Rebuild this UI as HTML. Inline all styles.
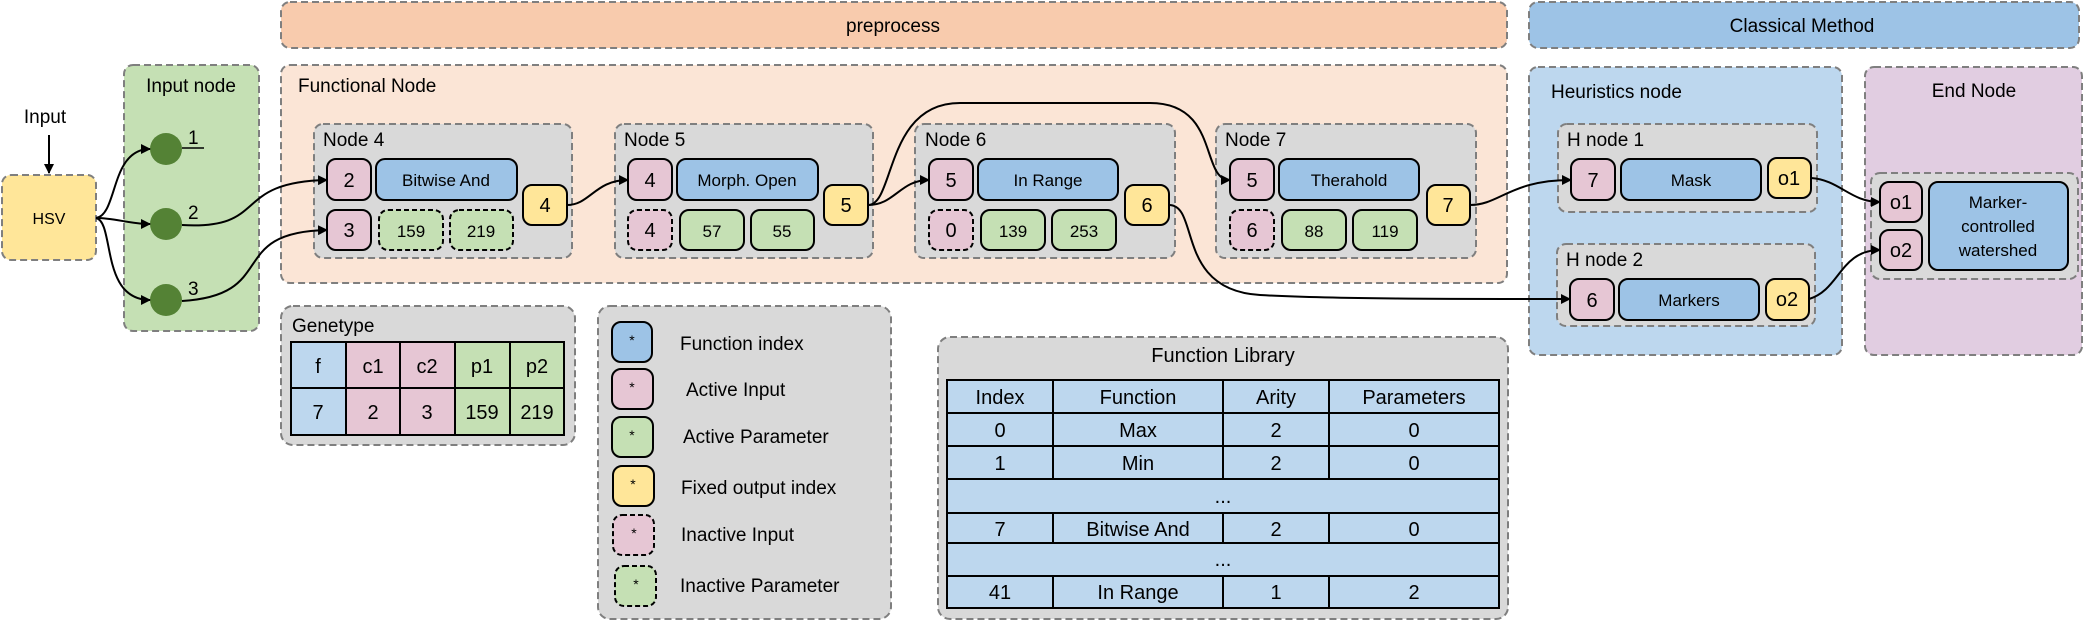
<!DOCTYPE html>
<html><head><meta charset="utf-8"><style>
html,body{margin:0;padding:0;background:#fff;}
svg text{font-family:"Liberation Sans",sans-serif;fill:#000;}
</style></head><body>
<svg width="2085" height="621" viewBox="0 0 2085 621" xmlns="http://www.w3.org/2000/svg">
<defs>
<marker id="ar" viewBox="0 0 10 10" refX="9" refY="5" markerWidth="10" markerHeight="10" markerUnits="userSpaceOnUse" orient="auto"><path d="M0,0 L10,5 L0,10 z" fill="#000"/></marker>
</defs>
<g stroke="#7f7f7f" stroke-width="2" stroke-dasharray="7,4">
<rect x="281" y="2" width="1226" height="46" rx="9" fill="#f8cbad"/>
<rect x="1529" y="2" width="550" height="46" rx="9" fill="#9dc3e6"/>
<rect x="124" y="65" width="135" height="266" rx="9" fill="#c5e0b4"/>
<rect x="281" y="65" width="1226" height="218" rx="9" fill="#fbe5d6"/>
<rect x="1529" y="67" width="313" height="288" rx="9" fill="#bdd7ee"/>
<rect x="1865" y="67" width="217" height="288" rx="9" fill="#e1cde1"/>
<rect x="2" y="175" width="94" height="85" rx="9" fill="#ffe699"/>
<rect x="314" y="124" width="258" height="134" rx="9" fill="#d9d9d9"/>
<rect x="615" y="124" width="258" height="134" rx="9" fill="#d9d9d9"/>
<rect x="915" y="124" width="260" height="134" rx="9" fill="#d9d9d9"/>
<rect x="1216" y="124" width="260" height="134" rx="9" fill="#d9d9d9"/>
<rect x="1558" y="124" width="259" height="88" rx="9" fill="#d9d9d9"/>
<rect x="1557" y="244" width="258" height="82" rx="9" fill="#d9d9d9"/>
<rect x="1871" y="173" width="207" height="106" rx="9" fill="#d9d9d9"/>
<rect x="281" y="306" width="294" height="139" rx="12" fill="#d9d9d9"/>
<rect x="598" y="306" width="293" height="313" rx="12" fill="#d9d9d9"/>
<rect x="938" y="337" width="570" height="282" rx="12" fill="#d9d9d9"/>
</g>
<g font-size="19">
<text x="893" y="32" text-anchor="middle">preprocess</text>
<text x="1802" y="32" text-anchor="middle">Classical Method</text>
<text x="191" y="92" text-anchor="middle">Input node</text>
<text x="298" y="92">Functional Node</text>
<text x="1551" y="98">Heuristics node</text>
<text x="1974" y="97" text-anchor="middle">End Node</text>
<text x="45" y="123" text-anchor="middle">Input</text>
<text x="323" y="146">Node 4</text>
<text x="624" y="146">Node 5</text>
<text x="925" y="146">Node 6</text>
<text x="1225" y="146">Node 7</text>
<text x="1567" y="146">H node 1</text>
<text x="1566" y="266">H node 2</text>
<text x="292" y="332">Genetype</text>
<text x="1223" y="362" text-anchor="middle" font-size="20">Function Library</text>
</g>
<text x="49" y="224" font-size="16" text-anchor="middle">HSV</text>
<g fill="#548235"><circle cx="166" cy="149" r="16"/><circle cx="166" cy="224" r="16"/><circle cx="166" cy="300" r="16"/></g>
<g font-size="19"><text x="188" y="144">1</text><text x="188" y="219">2</text><text x="188" y="295">3</text></g>
<line x1="182" y1="148" x2="204" y2="148" stroke="#000" stroke-width="1.5"/>
<g stroke="#000" stroke-width="2">
<rect x="327" y="159" width="44" height="41" rx="9" fill="#e6c6d4"/>
<rect x="376" y="159" width="141" height="41" rx="9" fill="#9dc3e6"/>
<rect x="523" y="185" width="44" height="40" rx="9" fill="#ffe699"/>
<rect x="327" y="210" width="44" height="40" rx="9" fill="#e6c6d4"/>
<rect x="379" y="210" width="64" height="40" rx="9" fill="#c5e0b4" stroke-dasharray="5,3"/>
<rect x="450" y="210" width="63" height="40" rx="9" fill="#c5e0b4" stroke-dasharray="5,3"/>
<rect x="628" y="159" width="44" height="41" rx="9" fill="#e6c6d4"/>
<rect x="677" y="159" width="141" height="41" rx="9" fill="#9dc3e6"/>
<rect x="824" y="185" width="44" height="40" rx="9" fill="#ffe699"/>
<rect x="628" y="210" width="44" height="40" rx="9" fill="#e6c6d4" stroke-dasharray="5,3"/>
<rect x="680" y="210" width="64" height="40" rx="9" fill="#c5e0b4"/>
<rect x="751" y="210" width="63" height="40" rx="9" fill="#c5e0b4"/>
<rect x="929" y="159" width="44" height="41" rx="9" fill="#e6c6d4"/>
<rect x="978" y="159" width="140" height="41" rx="9" fill="#9dc3e6"/>
<rect x="1125" y="185" width="44" height="40" rx="9" fill="#ffe699"/>
<rect x="929" y="210" width="44" height="40" rx="9" fill="#e6c6d4" stroke-dasharray="5,3"/>
<rect x="981" y="210" width="64" height="40" rx="9" fill="#c5e0b4"/>
<rect x="1052" y="210" width="64" height="40" rx="9" fill="#c5e0b4"/>
<rect x="1230" y="159" width="44" height="41" rx="9" fill="#e6c6d4"/>
<rect x="1279" y="159" width="140" height="41" rx="9" fill="#9dc3e6"/>
<rect x="1427" y="185" width="43" height="40" rx="9" fill="#ffe699"/>
<rect x="1230" y="210" width="44" height="40" rx="9" fill="#e6c6d4" stroke-dasharray="5,3"/>
<rect x="1282" y="210" width="64" height="40" rx="9" fill="#c5e0b4"/>
<rect x="1353" y="210" width="64" height="40" rx="9" fill="#c5e0b4"/>
<rect x="1571" y="159" width="44" height="41" rx="9" fill="#e6c6d4"/>
<rect x="1621" y="159" width="140" height="41" rx="9" fill="#9dc3e6"/>
<rect x="1768" y="158" width="43" height="40" rx="9" fill="#ffe699"/>
<rect x="1570" y="279" width="44" height="41" rx="9" fill="#e6c6d4"/>
<rect x="1619" y="279" width="140" height="41" rx="9" fill="#9dc3e6"/>
<rect x="1766" y="279" width="43" height="41" rx="9" fill="#ffe699"/>
<rect x="1880" y="182" width="42" height="40" rx="9" fill="#e6c6d4"/>
<rect x="1880" y="230" width="42" height="40" rx="9" fill="#e6c6d4"/>
<rect x="1929" y="182" width="139" height="88" rx="9" fill="#9dc3e6"/>
<rect x="612" y="322" width="40" height="40" rx="9" fill="#9dc3e6"/>
<rect x="612" y="369" width="41" height="40" rx="9" fill="#e6c6d4"/>
<rect x="612" y="417" width="41" height="40" rx="9" fill="#c5e0b4"/>
<rect x="613" y="466" width="41" height="40" rx="9" fill="#ffe699"/>
<rect x="613" y="515" width="41" height="40" rx="9" fill="#e6c6d4" stroke-dasharray="5,3"/>
<rect x="615" y="566" width="41" height="40" rx="9" fill="#c5e0b4" stroke-dasharray="5,3"/>
</g>
<g font-size="20" text-anchor="middle">
<text x="349" y="187">2</text><text x="349" y="237">3</text><text x="545" y="212">4</text>
<text x="650" y="187">4</text><text x="650" y="237">4</text><text x="846" y="212">5</text>
<text x="951" y="187">5</text><text x="951" y="237">0</text><text x="1147" y="212">6</text>
<text x="1252" y="187">5</text><text x="1252" y="237">6</text><text x="1448" y="212">7</text>
<text x="1593" y="187">7</text><text x="1592" y="307">6</text>
<text x="1789" y="185">o1</text><text x="1787" y="306">o2</text>
<text x="1901" y="209">o1</text><text x="1901" y="257">o2</text>
</g>
<g font-size="17" text-anchor="middle">
<text x="446" y="186">Bitwise And</text>
<text x="747" y="186">Morph. Open</text>
<text x="1048" y="186">In Range</text>
<text x="1349" y="186">Therahold</text>
<text x="1691" y="186">Mask</text>
<text x="1689" y="306">Markers</text>
<text x="1998" y="208">Marker-</text>
<text x="1998" y="232">controlled</text>
<text x="1998" y="256">watershed</text>
<text x="411" y="237">159</text><text x="481" y="237">219</text>
<text x="712" y="237">57</text><text x="782" y="237">55</text>
<text x="1013" y="237">139</text><text x="1084" y="237">253</text>
<text x="1314" y="237">88</text><text x="1385" y="237">119</text>
</g>
<g font-size="14" text-anchor="middle">
<text x="632" y="345">*</text><text x="632" y="392">*</text><text x="632" y="440">*</text>
<text x="633" y="489">*</text><text x="634" y="538">*</text><text x="636" y="589">*</text>
</g>
<g font-size="19">
<text x="680" y="350">Function index</text>
<text x="686" y="396">Active Input</text>
<text x="683" y="443">Active Parameter</text>
<text x="681" y="494">Fixed output index</text>
<text x="681" y="541">Inactive Input</text>
<text x="680" y="592">Inactive Parameter</text>
</g>
<g stroke="#000" stroke-width="2">
<rect x="291" y="342" width="55" height="93" fill="#bdd7ee"/>
<rect x="346" y="342" width="54" height="93" fill="#e6c6d4"/>
<rect x="400" y="342" width="55" height="93" fill="#e6c6d4"/>
<rect x="455" y="342" width="55" height="93" fill="#c5e0b4"/>
<rect x="510" y="342" width="54" height="93" fill="#c5e0b4"/>
<line x1="291" y1="388" x2="564" y2="388"/>
</g>
<g font-size="20" text-anchor="middle">
<text x="318" y="373">f</text><text x="373" y="373">c1</text><text x="427" y="373">c2</text><text x="482" y="373">p1</text><text x="537" y="373">p2</text>
<text x="318" y="419">7</text><text x="373" y="419">2</text><text x="427" y="419">3</text><text x="482" y="419">159</text><text x="537" y="419">219</text>
</g>
<g stroke="#000" stroke-width="2" fill="none">
<rect x="947" y="380" width="552" height="228" fill="#bdd7ee"/>
<line x1="947" y1="413" x2="1499" y2="413"/><line x1="947" y1="446" x2="1499" y2="446"/>
<line x1="947" y1="479" x2="1499" y2="479"/><line x1="947" y1="513" x2="1499" y2="513"/>
<line x1="947" y1="543" x2="1499" y2="543"/><line x1="947" y1="576" x2="1499" y2="576"/>
<path d="M1053,380V479M1223,380V479M1329,380V479M1053,513V543M1223,513V543M1329,513V543M1053,576V608M1223,576V608M1329,576V608"/>
</g>
<g font-size="20" text-anchor="middle">
<text x="1000" y="404">Index</text><text x="1138" y="404">Function</text><text x="1276" y="404">Arity</text><text x="1414" y="404">Parameters</text>
<text x="1000" y="437">0</text><text x="1138" y="437">Max</text><text x="1276" y="437">2</text><text x="1414" y="437">0</text>
<text x="1000" y="470">1</text><text x="1138" y="470">Min</text><text x="1276" y="470">2</text><text x="1414" y="470">0</text>
<text x="1223" y="503">...</text>
<text x="1000" y="536">7</text><text x="1138" y="536">Bitwise And</text><text x="1276" y="536">2</text><text x="1414" y="536">0</text>
<text x="1223" y="566">...</text>
<text x="1000" y="599">41</text><text x="1138" y="599">In Range</text><text x="1276" y="599">1</text><text x="1414" y="599">2</text>
</g>
<g stroke="#000" stroke-width="2" fill="none" marker-end="url(#ar)">
<path d="M49,135 V173"/>
<path d="M96,218 C118,215 110,149 150,149"/>
<path d="M96,218 C115,218 130,224 150,224"/>
<path d="M96,218 C115,222 100,300 150,300"/>
<path d="M182,225 C270,230 230,182 327,180"/>
<path d="M182,301 C280,295 225,232 327,230"/>
<path d="M567,205 C590,205 595,180 628,180"/>
<path d="M868,205 C895,205 900,180 929,180"/>
<path d="M868,205 C895,205 885,103 960,103 L1150,103 C1220,103 1200,180 1230,180"/>
<path d="M1169,205 C1200,205 1175,290 1260,295 C1330,299 1450,299 1570,299"/>
<path d="M1470,205 C1500,205 1510,180 1571,180"/>
<path d="M1811,178 C1840,180 1850,202 1880,202"/>
<path d="M1809,299 C1840,290 1840,250 1880,250"/>
</g>
</svg>
</body></html>
